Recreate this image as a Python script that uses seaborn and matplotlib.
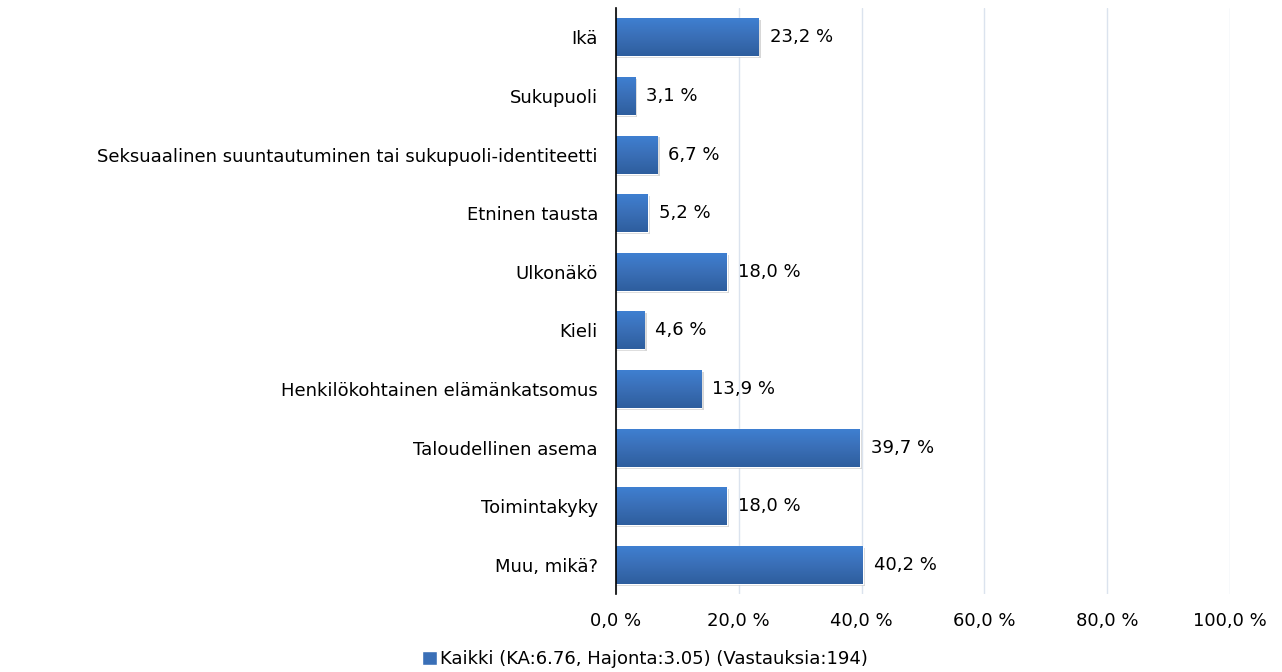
"""Syrjinnän perusteet – vaakapylväskaavio."""

import matplotlib

matplotlib.use("Agg")
import matplotlib.pyplot as plt
import numpy as np
import pandas as pd
import seaborn as sns
from matplotlib.colors import LinearSegmentedColormap

categories = [
    "Ikä",
    "Sukupuoli",
    "Seksuaalinen suuntautuminen tai sukupuoli-identiteetti",
    "Etninen tausta",
    "Ulkonäkö",
    "Kieli",
    "Henkilökohtainen elämänkatsomus",
    "Taloudellinen asema",
    "Toimintakyky",
    "Muu, mikä?",
]
values = [23.2, 3.1, 6.7, 5.2, 18.0, 4.6, 13.9, 39.7, 18.0, 40.2]
x_ticks = [0, 20, 40, 60, 80, 100]
series_name = "Kaikki (KA:6.76, Hajonta:3.05) (Vastauksia:194)"

BAR_COLOR = "#3a6fb7"
GRID_COLOR = "#dbe3ee"
FS = 13

df = pd.DataFrame({"kategoria": categories, "osuus": values})

sns.set_theme(style="white")
plt.rcParams["font.family"] = ["DejaVu Sans"]
plt.rcParams["text.color"] = "black"

fig = plt.figure(figsize=(12.82, 6.72), dpi=100)
ax = fig.add_axes([0.4805, 0.116, 0.4789, 0.872])

sns.barplot(
    data=df, x="osuus", y="kategoria", orient="h", color=BAR_COLOR,
    width=0.65, saturation=1, ax=ax, label=series_name,
)

ax.set_xlim(0, 100)
ax.set_xticks(x_ticks)
ax.set_xticklabels([f"{t:.1f} %".replace(".", ",") for t in x_ticks])
ax.xaxis.grid(True, color=GRID_COLOR, linewidth=1)
ax.set_axisbelow(True)
ax.set_xlabel("")
ax.set_ylabel("")
for side in ["top", "right", "bottom"]:
    ax.spines[side].set_visible(False)
ax.spines["left"].set_color("black")
ax.spines["left"].set_linewidth(1.2)
ax.spines["left"].set_zorder(5)
ax.tick_params(axis="both", length=0, labelsize=FS, colors="black")
ax.tick_params(axis="x", pad=13)
ax.tick_params(axis="y", pad=13)

# pystysuuntainen liukuväri pylväisiin (vaalea ylhäällä, tumma alhaalla)
grad = LinearSegmentedColormap.from_list("bar", ["#3f80d2", "#3a6fb7", "#2e5e9e"])
ylim = ax.get_ylim()
for patch, v in zip(ax.patches, values):
    x0, y0 = patch.get_x(), patch.get_y()
    w, h = patch.get_width(), patch.get_height()
    # varjo
    ax.add_patch(plt.Rectangle((x0, y0 + h * 0.05), w + 0.4, h, color="#b0b0b0",
                               alpha=0.5, zorder=1.5, linewidth=0))
    img = ax.imshow(np.linspace(0, 1, 64).reshape(-1, 1), cmap=grad, aspect="auto",
                    extent=(x0, x0 + w, y0 + h, y0), zorder=2, interpolation="bilinear")
    img.set_clip_path(patch)
    patch.set_zorder(2)
    ax.annotate(
        f"{v:.1f} %".replace(".", ","), (x0 + w, y0 + h / 2),
        xytext=(8, 0), textcoords="offset points", va="center", ha="left",
        fontsize=FS, color="black",
    )
ax.set_ylim(ylim)
ax.set_xlim(0, 100)

leg = ax.legend(
    loc="lower center", bbox_to_anchor=(645 / 1282, -0.005), bbox_transform=fig.transFigure,
    frameon=False, fontsize=FS, handlelength=0.8, handleheight=0.8,
    handletextpad=0.15, borderaxespad=0.0,
)
for t in leg.get_texts():
    t.set_color("black")

plt.savefig("out.png", dpi=100)
plt.close()
